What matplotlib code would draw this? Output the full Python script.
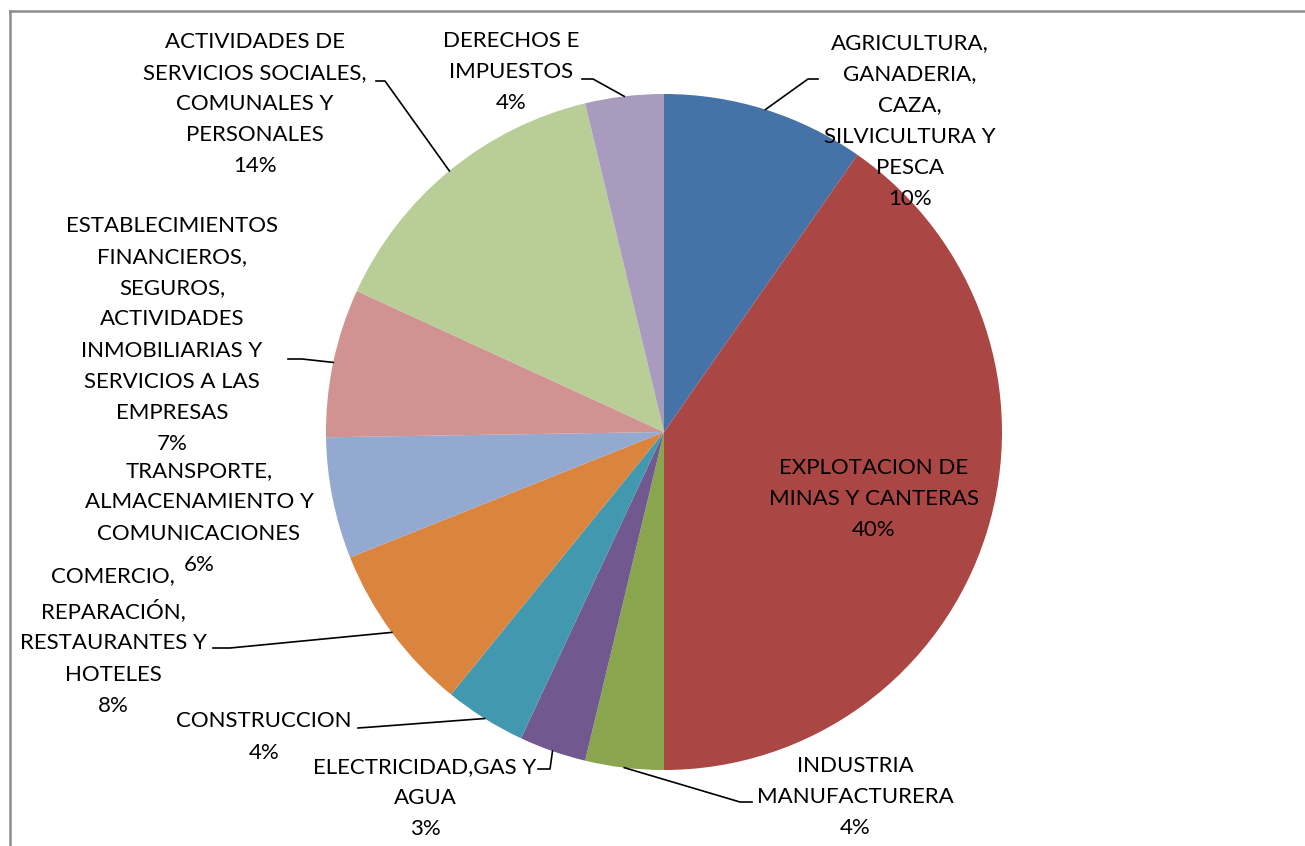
import numpy as np
import matplotlib
matplotlib.use("Agg")
import matplotlib.pyplot as plt
from matplotlib.lines import Line2D

# sector shares (%), clockwise from 12 o'clock
sectores = [
    "AGRICULTURA,\nGANADERIA,\nCAZA,\nSILVICULTURA Y\nPESCA",
    "EXPLOTACION DE\nMINAS Y CANTERAS",
    "INDUSTRIA\nMANUFACTURERA",
    "ELECTRICIDAD,GAS Y\nAGUA",
    "CONSTRUCCION",
    "COMERCIO,\nREPARACIÓN,\nRESTAURANTES Y\nHOTELES",
    "TRANSPORTE,\nALMACENAMIENTO Y\nCOMUNICACIONES",
    "ESTABLECIMIENTOS\nFINANCIEROS,\nSEGUROS,\nACTIVIDADES\nINMOBILIARIAS Y\nSERVICIOS A LAS\nEMPRESAS",
    "ACTIVIDADES DE\nSERVICIOS SOCIALES,\nCOMUNALES Y\nPERSONALES",
    "DERECHOS E\nIMPUESTOS",
]
valores = [9.7, 40.3, 3.75, 3.2, 3.9, 8.1, 5.8, 7.1, 14.4, 3.75]
porcentajes = ["10%", "40%", "4%", "3%", "4%", "8%", "6%", "7%", "14%", "4%"]
colores = ["#4572A7", "#AA4643", "#89A54E", "#71588F", "#4198AF",
           "#DB843D", "#93A9CF", "#D19392", "#B9CD96", "#A99BBD"]

# label centres and leader line end points, in pixels from top-left
label_pos = [(910, 121), (874, 499), (855, 797), (425, 798), (264, 737),
             (113, 641), (199, 518), (172, 335), (255, 104), (511, 72)]
leader_end = [[(808, 79), (818, 79)], None, [(740, 802), (752, 802)],
              [(550, 769), (538, 769)], [(372, 727), (358, 728)],
              [(230, 648), (213, 648)], None, [(302, 359), (288, 359)],
              [(385, 81), (376, 81)], [(593, 79), (582, 79)]]

W, H = 1305, 846
cx, cy, r = 664, 432, 338

fig = plt.figure(figsize=(W / 100, H / 100), dpi=100)
ax = fig.add_axes([0, 0, 1, 1])

wedges, _ = ax.pie(valores, colors=colores, startangle=90, counterclock=False,
                   center=(cx, H - cy), radius=r, wedgeprops=dict(linewidth=0))
ax.set_xlim(0, W)
ax.set_ylim(0, H)
ax.set_aspect("equal")
ax.axis("off")

font = dict(family="Lato", fontsize=16, color="black")
for i, (nombre, pct) in enumerate(zip(sectores, porcentajes)):
    x, y = label_pos[i]
    ax.text(x, H - y, nombre + "\n" + pct, ha="center", va="center",
            linespacing=1.7, **font)
    if leader_end[i] is not None:
        w = wedges[i]
        ang = np.deg2rad((w.theta1 + w.theta2) / 2)
        px = cx + r * np.cos(ang)
        py = (H - cy) + r * np.sin(ang)
        xs = [px] + [p[0] for p in leader_end[i]]
        ys = [py] + [H - p[1] for p in leader_end[i]]
        ax.plot(xs, ys, color="black", linewidth=1.2)

# chart frame (only top and left edges visible)
fig.add_artist(Line2D([10 / W, 1], [1 - 11 / H, 1 - 11 / H], color="#8c8c8c", linewidth=1.8))
fig.add_artist(Line2D([10 / W, 10 / W], [0, 1 - 11 / H], color="#8c8c8c", linewidth=1.8))

fig.savefig("out.png", dpi=100)
